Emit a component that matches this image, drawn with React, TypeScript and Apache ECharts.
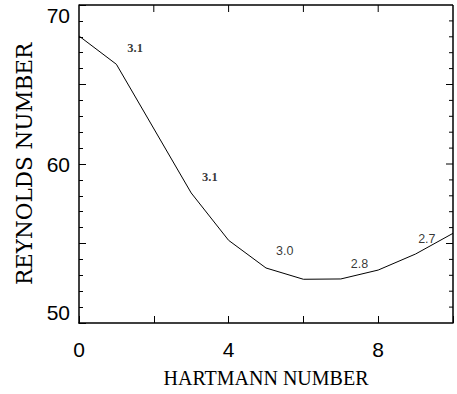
import React, { useEffect, useRef } from "react";
import * as echarts from "echarts";

const hartmann = [0, 1, 2, 3, 4, 5, 6, 7, 8, 9, 10];
const reynolds = [68.05, 66.27, null, 58.18, 55.2, 53.46, 52.75, 52.77, 53.33, 54.34, 55.64];
const annotX = [1.5, 3.5, 5.5, 7.5, 9.3];
const annotY = [67.3, 59.18, 54.53, 53.71, 55.28];
const annotText = ["3.1", "3.1", "3.0", "2.8", "2.7"];
const xLabelValues = [0, 4, 8];
const yLabelValues = [50, 60, 70];

const X_MIN = 0;
const X_MAX = 10;
const X_STEP = 2;
const Y_MIN = 50;
const Y_MAX = 70;
const Y_STEP = 5;

export default function App() {
  const ref = useRef<HTMLDivElement>(null);
  useEffect(() => {
    if (!ref.current) return;
    const chart = echarts.init(ref.current, undefined, { renderer: "svg" });
    const lineData = hartmann
      .map((h, i) => [h, reynolds[i]])
      .filter((p) => p[1] !== null);
    const axisLine = { show: true, onZero: false, lineStyle: { color: "#000", width: 1.5 } };
    const tick = { show: true, inside: true, length: 7, lineStyle: { color: "#000", width: 1 } };
    const minor = { show: true, splitNumber: 5, length: 4, lineStyle: { color: "#000", width: 1 } };

    chart.setOption({
      animation: false,
      grid: { left: 79, right: 4, top: 5, bottom: 71 },
      xAxis: {
        type: "value",
        min: X_MIN,
        max: X_MAX,
        interval: X_STEP,
        position: "bottom",
        axisLine,
        axisTick: tick,
        splitLine: { show: false },
        name: "HARTMANN NUMBER",
        nameLocation: "middle",
        nameGap: 45,
        nameTextStyle: { fontFamily: "Liberation Serif", fontSize: 20, color: "#000" },
        axisLabel: {
          show: true,
          margin: 16,
          fontFamily: "Liberation Sans",
          fontSize: 21,
          color: "#000",
          formatter: (v: number) => (xLabelValues.includes(v) ? String(v) : ""),
        },
      },
      yAxis: {
        type: "value",
        min: Y_MIN,
        max: Y_MAX,
        interval: Y_STEP,
        position: "left",
        axisLine,
        axisTick: tick,
        minorTick: minor,
        splitLine: { show: false },
        name: "REYNOLDS NUMBER",
        nameLocation: "middle",
        nameGap: 44,
        nameTextStyle: { fontFamily: "DejaVu Serif", fontSize: 21.5, color: "#000" },
        axisLabel: {
          show: true,
          margin: 9,
          fontFamily: "Liberation Sans",
          fontSize: 21,
          color: "#000",
          verticalAlignMinLabel: "bottom",
          verticalAlignMaxLabel: "top",
          formatter: (v: number) => (yLabelValues.includes(v) ? String(v) : ""),
        },
      },
      series: [
        {
          type: "line",
          data: lineData,
          symbol: "none",
          lineStyle: { color: "#000", width: 1 },
          silent: true,
        },
        {
          type: "scatter",
          symbolSize: 0,
          data: annotX.map((x, i) => ({
            value: [x, annotY[i]],
            label: {
              show: true,
              position: "inside",
              formatter: annotText[i],
              fontFamily: i < 2 ? "Liberation Serif" : "Liberation Sans",
              fontWeight: i < 2 ? "bold" : "normal",
              fontSize: 12.5,
              color: "#000",
            },
          })),
          silent: true,
        },
      ],
    });

    // top and right frame with mirrored ticks, positioned through the axes' scales
    const px = (x: number, y: number) =>
      chart.convertToPixel({ gridIndex: 0 }, [x, y]) as number[];
    const tl = px(X_MIN, Y_MAX);
    const tr = px(X_MAX, Y_MAX);
    const br = px(X_MAX, Y_MIN);
    const frame: any[] = [
      {
        type: "line",
        shape: { x1: tl[0], y1: tl[1], x2: tr[0], y2: tr[1] },
        style: { stroke: "#000", lineWidth: 1.5 },
        silent: true,
        z: 50,
      },
      {
        type: "line",
        shape: { x1: tr[0], y1: tr[1], x2: br[0], y2: br[1] },
        style: { stroke: "#000", lineWidth: 1.5 },
        silent: true,
        z: 50,
      },
    ];
    for (let x = X_MIN + X_STEP; x < X_MAX; x += X_STEP) {
      const p = px(x, Y_MAX);
      frame.push({
        type: "line",
        shape: { x1: p[0], y1: p[1], x2: p[0], y2: p[1] + 7 },
        style: { stroke: "#000", lineWidth: 1 },
        silent: true,
        z: 50,
      });
    }
    for (let y = Y_MIN + 1; y < Y_MAX; y += 1) {
      const p = px(X_MAX, y);
      const len = (y - Y_MIN) % Y_STEP === 0 ? 7 : 4;
      frame.push({
        type: "line",
        shape: { x1: p[0], y1: p[1], x2: p[0] - len, y2: p[1] },
        style: { stroke: "#000", lineWidth: 1 },
        silent: true,
        z: 50,
      });
    }
    chart.setOption({ graphic: frame });

    return () => chart.dispose();
  }, []);
  return (
    <div
      ref={ref}
      style={{ position: "fixed", left: 0, top: 0, width: 457, height: 394, background: "#fff" }}
    />
  );
}
